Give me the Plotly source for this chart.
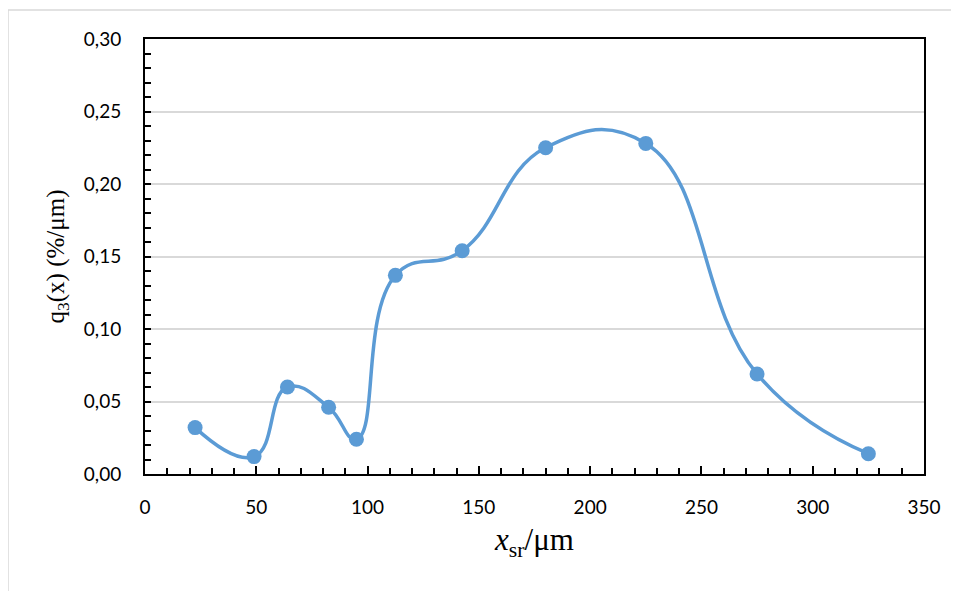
import plotly.graph_objects as go

x_sr = [22.5, 49, 64, 82.5, 95, 112.5, 142.5, 180, 225, 275, 325]
q3 = [0.032, 0.012, 0.060, 0.046, 0.024, 0.137, 0.154, 0.225, 0.228, 0.069, 0.014]

x_ticks = [0, 50, 100, 150, 200, 250, 300, 350]
y_ticks = [0, 0.05, 0.10, 0.15, 0.20, 0.25, 0.30]

fig = go.Figure()
fig.add_trace(go.Scatter(
    x=x_sr, y=q3, mode="lines+markers",
    line=dict(color="#5B9BD5", width=3.5, shape="spline", smoothing=1.3),
    marker=dict(color="#5B9BD5", size=15),
    showlegend=False, cliponaxis=False,
))

# page body adds ~8px offset
L, R, T, B = 137, 35, 31, 117
W, H = 951, 583
pw, ph = W - L - R, H - T - B

fig.update_layout(
    width=W, height=H,
    margin=dict(l=L, r=R, t=T, b=B, pad=0),
    paper_bgcolor="white", plot_bgcolor="white",
    separators=",.",
    font=dict(family="Lato, Open Sans, sans-serif", size=19, color="black"),
    shapes=[dict(type="rect", xref="paper", yref="paper",
                 x0=(0 - L) / pw, x1=1.2, y0=-0.6, y1=1 + (T - 2) / ph,
                 line=dict(color="#d9d9d9", width=1.5), layer="below")],
)

fig.update_xaxes(
    range=[0, 350], tickvals=x_ticks, ticks="inside", ticklen=8, tickwidth=1.5,
    tickcolor="black", showline=True, linecolor="black", linewidth=2, mirror=True,
    showgrid=False, zeroline=False, ticklabelstandoff=15, automargin=False,
    minor=dict(dtick=10, ticks="inside", ticklen=6, tickwidth=1.5, tickcolor="black", showgrid=False),
    title=dict(text="<i>x</i><sub>sr</sub>/μm",
               font=dict(family="Liberation Serif, Times New Roman, serif", size=31), standoff=12),
)
fig.update_yaxes(
    range=[0, 0.30], tickvals=y_ticks, tickformat=".2f", ticks="inside", ticklen=6, tickwidth=1.5,
    tickcolor="black", showline=True, linecolor="black", linewidth=2, mirror=True,
    showgrid=True, gridcolor="#d9d9d9", gridwidth=1.5, zeroline=False, ticklabelstandoff=18,
    automargin=False,
    minor=dict(dtick=0.01, ticks="inside", ticklen=6, tickwidth=1.5, tickcolor="black", showgrid=False),
    title=dict(text="q<sub>3</sub>(x) (%/μm)",
               font=dict(family="Liberation Serif, Times New Roman, serif", size=25), standoff=12),
)

fig.write_html("out.html")
